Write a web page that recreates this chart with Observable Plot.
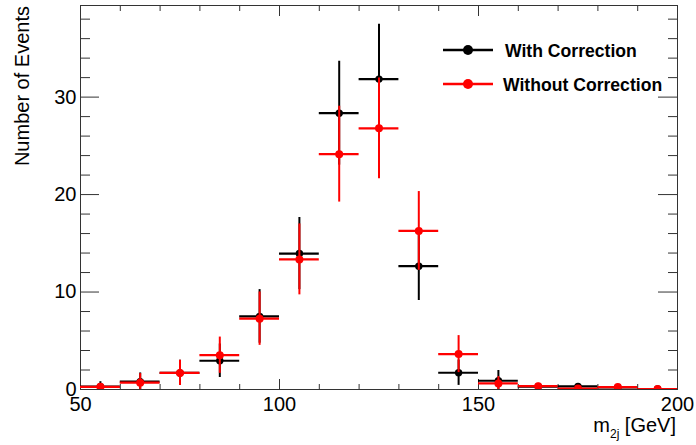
<!DOCTYPE html>
<html>
<head>
<meta charset="utf-8">
<script src="https://cdn.jsdelivr.net/npm/d3@7"></script>
<script src="https://cdn.jsdelivr.net/npm/@observablehq/plot@0.6"></script>
<style>
  html, body { margin: 0; padding: 0; background: #fff; }
  #chart svg { display: block; }
</style>
</head>
<body>
<div id="chart"></div>
<script>
// ---- data ----
const binCenters = [55, 65, 75, 85, 95, 105, 115, 125, 135, 145, 155, 165, 175, 185, 195];
const binLow     = [50, 60, 70, 80, 90, 100, 110, 120, 130, 140, 150, 160, 170, 180, 190];
const binHigh    = [60, 70, 80, 90, 100, 110, 120, 130, 140, 150, 160, 170, 180, 190, 200];

const withCorrection     = [0.3, 0.8, 1.7, 2.95, 7.5, 13.95, 28.35, 31.85, 12.65, 1.72, 0.9, 0.3, 0.32, 0.22, 0.05];
const withCorrectionErr  = [0.5, 0.9, 1.3, 1.72, 2.75, 3.7, 5.33, 5.62, 3.52, 1.3, 1.05, 0.3, 0.3, 0.2, 0.05];
const withoutCorrection    = [0.27, 0.7, 1.7, 3.52, 7.27, 13.35, 24.15, 26.8, 16.27, 3.63, 0.62, 0.34, 0.1, 0.25, 0.04];
const withoutCorrectionErr = [0.3, 0.93, 1.3, 1.86, 2.74, 3.64, 4.92, 5.17, 4.04, 1.9, 0.7, 0.3, 0.1, 0.2, 0.04];

const seriesNames = ["With Correction", "Without Correction"];
const seriesColors = ["#000000", "#ff0000"];

const xMajorTicks = [50, 100, 150, 200];
const xMinorTicks = [60, 70, 80, 90, 110, 120, 130, 140, 160, 170, 180, 190];
const yMajorTicks = [0, 10, 20, 30];
const yMinorTicks = [2, 4, 6, 8, 12, 14, 16, 18, 22, 24, 26, 28, 32, 34, 36, 38];

const xLabel = "m";
const xLabelSub = "2j";
const xLabelUnit = " [GeV]";
const yLabel = "Number of Events";

// ---- build tables ----
function table(values, errs) {
  return binCenters.map((c, i) => ({
    x: c, lo: binLow[i], hi: binHigh[i],
    v: values[i], e: errs[i]
  }));
}
const dWith = table(withCorrection, withCorrectionErr);
const dWithout = table(withoutCorrection, withoutCorrectionErr);

function seriesMarks(data, color, r) {
  return [
    Plot.ruleY(data, {y: "v", x1: "lo", x2: "hi", stroke: color, strokeWidth: 2.2, clip: true}),
    Plot.ruleX(data, {x: "x", y1: d => d.v - d.e, y2: d => d.v + d.e, stroke: color, strokeWidth: 2, clip: true}),
    Plot.dot(data, {x: "x", y: "v", r: r, fill: color, stroke: null, clip: true})
  ];
}

const axisColor = "#333";
const font = "'Liberation Sans', Arial, Helvetica, sans-serif";

const plot = Plot.plot({
  width: 696,
  height: 445,
  marginLeft: 80,
  marginRight: 19,
  marginTop: 5,
  marginBottom: 56,
  style: {fontFamily: font, fontSize: "20px", background: "#fff", color: "#000"},
  x: {domain: [50, 200]},
  y: {domain: [0, 39.4]},
  marks: [
    // inward ticks on all four sides
    Plot.axisX(xMajorTicks, {anchor: "bottom", tickSize: -10, tickFormat: () => "", label: null, stroke: axisColor}),
    Plot.axisX(xMinorTicks, {anchor: "bottom", tickSize: -5, tickFormat: () => "", label: null, stroke: axisColor}),
    Plot.axisX(xMajorTicks, {anchor: "top", tickSize: -10, tickFormat: () => "", label: null, stroke: axisColor}),
    Plot.axisX(xMinorTicks, {anchor: "top", tickSize: -5, tickFormat: () => "", label: null, stroke: axisColor}),
    Plot.axisY(yMajorTicks, {anchor: "left", tickSize: -19, tickFormat: () => "", label: null, stroke: axisColor}),
    Plot.axisY(yMinorTicks, {anchor: "left", tickSize: -10, tickFormat: () => "", label: null, stroke: axisColor}),
    Plot.axisY(yMajorTicks, {anchor: "right", tickSize: -20, tickFormat: () => "", label: null, stroke: axisColor}),
    Plot.axisY(yMinorTicks, {anchor: "right", tickSize: -10, tickFormat: () => "", label: null, stroke: axisColor}),
    // tick labels
    Plot.axisX(xMajorTicks, {anchor: "bottom", tickSize: 0, tickPadding: 7, label: null, fontSize: 20, tickFormat: d => String(d)}),
    Plot.axisY(yMajorTicks, {anchor: "left", tickSize: 0, tickPadding: 4, label: null, fontSize: 20, tickFormat: d => String(d)}),
    Plot.frame({stroke: axisColor, strokeWidth: 1}),
    ...seriesMarks(dWith, seriesColors[0], 3.7),
    ...seriesMarks(dWithout, seriesColors[1], 4)
  ]
});

document.getElementById("chart").appendChild(plot);

// ---- axis titles and legend ----
const svg = d3.select(plot);

svg.append("text")
  .attr("transform", "translate(28.5,6) rotate(-90)")
  .attr("text-anchor", "end")
  .attr("font-family", font)
  .attr("font-size", 20)
  .attr("fill", "#000")
  .text(yLabel);

const xt = svg.append("text")
  .attr("x", 676)
  .attr("y", 432)
  .attr("text-anchor", "end")
  .attr("font-family", font)
  .attr("font-size", 20)
  .attr("fill", "#000");
xt.append("tspan").text(xLabel);
xt.append("tspan").attr("font-size", 12).attr("dy", 6).text(xLabelSub);
xt.append("tspan").attr("dy", -6).text(xLabelUnit);

const legend = svg.append("g");
const legendRows = [50, 84];
seriesNames.forEach((name, i) => {
  const y = legendRows[i];
  const g = legend.append("g");
  g.append("line").attr("x1", 443).attr("x2", 493).attr("y1", y).attr("y2", y)
    .attr("stroke", seriesColors[i]).attr("stroke-width", 2.5);
  g.append("circle").attr("cx", 468).attr("cy", y).attr("r", 5).attr("fill", seriesColors[i]);
  g.append("text").attr("x", i === 0 ? 505 : 503).attr("y", y + 7)
    .attr("text-anchor", "start")
    .attr("font-family", font).attr("font-weight", "bold").attr("font-size", 17.6)
    .attr("fill", "#000").text(name);
});
</script>
</body>
</html>
